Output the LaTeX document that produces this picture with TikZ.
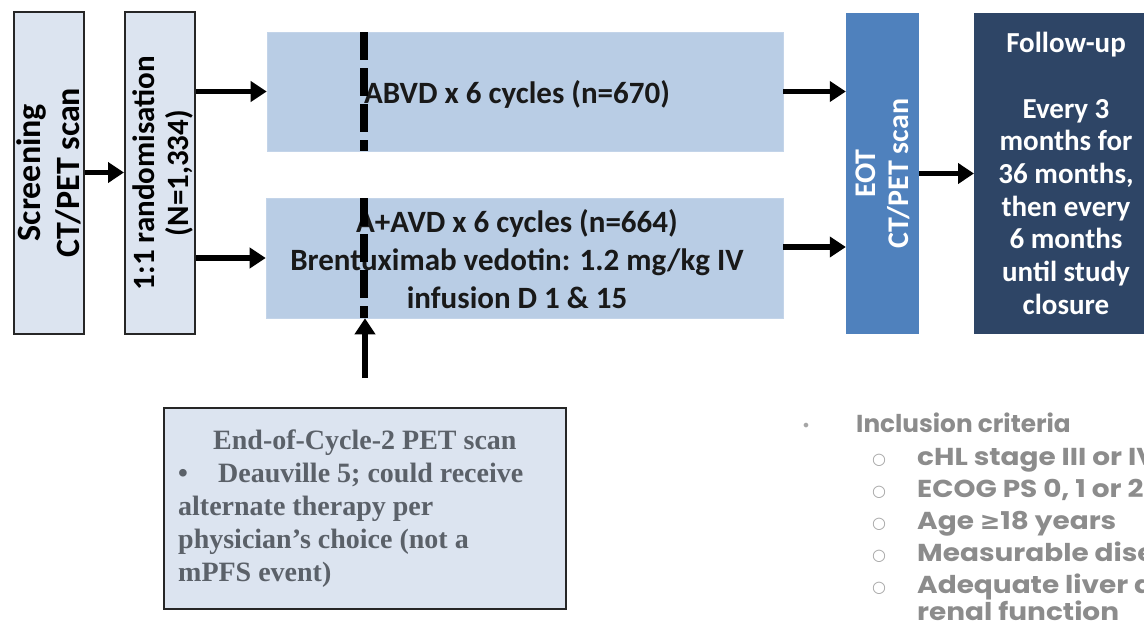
\documentclass[tikz,border=0pt]{standalone}
\usepackage{fontspec}
\setmainfont{Carlito}
\newfontfamily\boxserif{Liberation Serif}
\newfontfamily\gothichead{Poppins}[FakeStretch=1.01]
\newfontfamily\gothic{Poppins}[FakeStretch=1.14]
\newfontfamily\symfont{DejaVu Sans}
\usetikzlibrary{arrows.meta}

\definecolor{paleblue}{HTML}{DCE4F0}
\definecolor{armblue}{HTML}{B9CDE5}
\definecolor{eotblue}{HTML}{4F81BD}
\definecolor{navy}{HTML}{2E4566}
\definecolor{edgegray}{HTML}{262626}
\definecolor{notegray}{HTML}{5B6169}
\definecolor{critgray}{HTML}{8C8C8C}
\definecolor{bulletgray}{HTML}{A6A6A6}

\tikzset{
  palebox/.style={draw=edgegray, line width=2pt, fill=paleblue, inner sep=0pt},
  armbox/.style={fill=armblue, draw=armblue!85!white, line width=0.6pt, inner sep=0pt},
  arr/.style={line width=5.5pt, -{Triangle[length=16pt,width=20pt]}},
  cycleline/.style={line width=8pt, dash pattern=on 28pt off 8pt},
  armtext/.style={font=\fontsize{31}{38}\selectfont\bfseries, text=black!90, anchor=base, inner sep=0pt},
  futext/.style={font=\fontsize{29}{33}\selectfont\bfseries, text=white, anchor=base, inner sep=0pt},
  notetext/.style={font=\boxserif\fontsize{28}{33}\selectfont\bfseries, text=notegray, anchor=base west, inner sep=0pt},
  crithead/.style={font=\gothichead\fontsize{24.5}{30}\selectfont\bfseries, text=critgray, anchor=base west, inner sep=0pt},
  crittext/.style={font=\gothic\fontsize{24.5}{30}\selectfont\bfseries, text=critgray, anchor=base west, inner sep=0pt},
  critbullet/.style={font=\symfont\fontsize{16}{16}\selectfont, text=bulletgray, anchor=base, inner sep=0pt},
}

\begin{document}
\begin{tikzpicture}[x=1pt,y=-1pt]
\useasboundingbox (0,0) rectangle (1144,643);
\clip (0,0) rectangle (1144,643);

% screening and randomisation columns
\node[palebox, rotate=90, minimum width=322pt, minimum height=70pt,
      align=center, font=\fontsize{34}{39}\selectfont\bfseries] (scr) at (49,172.5)
  {Screening\\CT/PET scan};
\node[palebox, minimum width=70pt, minimum height=322pt] (rand) at (160,172.5) {};
\node[rotate=90, align=center, inner sep=0pt,
      font=\fontsize{31}{34}\selectfont\bfseries] (randtxt) at (163,173)
  {1:1 randomisation\\(N=1,334)};

% treatment arms
\node[armbox, minimum width=516pt, minimum height=119pt] (abvd) at (525,91.5) {};
\node[armbox, minimum width=517pt, minimum height=120pt] (aavd) at (524.5,258) {};

\node[armtext] (abvdtxt) at (517,103) {ABVD x 6 cycles (n=670)};
\node[armtext] (aavd1) at (517,232) {A+AVD x 6 cycles (n=664)};
\node[armtext] (aavd2) at (517,270) {Brentuximab vedotin: 1.2 mg/kg IV};
\node[armtext] (aavd3) at (517,308) {infusion D 1 \& 15};

% interim PET time point across both arms
\coordinate (cyc1) at (364,32);
\coordinate (cyc2) at (364,151);
\coordinate (cyc3) at (364,198);
\coordinate (cyc4) at (364,318);
\draw[cycleline] (cyc1) -- (cyc2);
\draw[cycleline] (cyc3) -- (cyc4);

% end-of-treatment scan and follow-up
\node[fill=eotblue, rotate=90, minimum width=321pt, minimum height=73pt, inner sep=0pt,
      align=center, text=white, font=\fontsize{30}{33}\selectfont\bfseries] (eot) at (882.5,173.5)
  {EOT\\CT/PET scan};
\node[fill=navy, minimum width=190pt, minimum height=321pt, inner sep=0pt, anchor=north west] (fu) at (974,13) {};

\node[futext] (fu0) at (1066,52) {Follow-up};
\node[futext] (fu1) at (1066,118) {Every 3};
\node[futext] (fu2) at (1066,150.7) {months for};
\node[futext] (fu3) at (1066,183.4) {36 months,};
\node[futext] (fu4) at (1066,216) {then every};
\node[futext] (fu5) at (1066,248.8) {6 months};
\node[futext] (fu6) at (1066,281.5) {until study};
\node[futext] (fu7) at (1066,314) {closure};

% connectors
\draw[arr] (scr) -- (rand);
\draw[arr] (rand.east |- abvd.west) -- (abvd.west);
\draw[arr] (rand.east |- aavd.west) -- (aavd.west);
\draw[arr] (abvd.east) -- (abvd.east -| eot.north);
\draw[arr] ([yshift=11pt]aavd.east) -- ([yshift=11pt]aavd.east -| eot.north);
\draw[arr] (eot) -- (fu.west |- eot);

% interim PET note
\node[palebox, minimum width=402pt, minimum height=201pt, anchor=north west] (note) at (163,407) {};
\coordinate (notetop) at (365,378);
\draw[arr] (notetop) -- (notetop |- aavd.south);

\node[notetext] (n1) at (213,449) {End-of-Cycle-2 PET scan};
\node[notetext] (n2b) at (178,482) {•};
\node[notetext] (n2) at (218,482) {Deauville 5; could receive};
\node[notetext] (n3) at (178,515) {alternate therapy per};
\node[notetext] (n4) at (178,548) {physician’s choice (not a};
\node[notetext] (n5) at (178,581) {mPFS event)};

% inclusion criteria list
\node[critbullet] (cb0) at (806,431) {•};
\node[crithead] (c0) at (856,432) {Inclusion criteria};
\node[critbullet] (cb1) at (879,464) {○};
\node[crittext] (c1) at (917,465) {cHL stage III or IV};
\node[critbullet] (cb2) at (879,496) {○};
\node[crittext] (c2) at (917,497) {ECOG PS 0, 1 or 2};
\node[critbullet] (cb3) at (879,528) {○};
\node[crittext] (c3) at (917,529) {Age {\symfont ≥}18 years};
\node[critbullet] (cb4) at (879,560) {○};
\node[crittext] (c4) at (917,561) {Measurable disease};
\node[critbullet] (cb5) at (879,592) {○};
\node[crittext] (c5) at (917,593) {Adequate liver and};
\node[crittext] (c6) at (917,620) {renal function};
\end{tikzpicture}
\end{document}
